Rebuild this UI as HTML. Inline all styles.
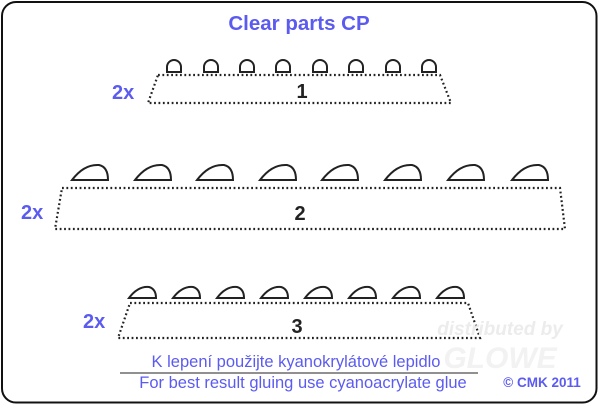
<!DOCTYPE html>
<html><head><style>
body{margin:0;width:600px;height:406px;background:#fff;overflow:hidden}
svg{display:block}
</style></head><body>
<svg width="600" height="406" viewBox="0 0 600 406" xmlns="http://www.w3.org/2000/svg" font-family="Liberation Sans, Arial, sans-serif">
<rect x="2" y="2" width="594.5" height="400.5" rx="14" fill="#fff" stroke="#111" stroke-width="2"/>
<text x="299" y="30" text-anchor="middle" font-size="20.5" font-weight="bold" fill="#5b5bf0">Clear parts CP</text>
<g fill="none" stroke="#222" stroke-width="2.2" stroke-dasharray="1.8 2.6">
<path d="M158 75 L440 75 L451 103 L148 103 Z"/>
<path d="M62 188 L560 188 L565 229 L55 229 Z"/>
<path d="M130 303 L468 303 L480 338 L118 338 Z"/>
</g>
<g fill="none" stroke="#222" stroke-width="2">
<g id="d">
<path d="M167 72 L167 67 A7 7 0 0 1 181 67 L181 72 Z"/>
</g>
<use href="#d" x="37"/><use href="#d" x="73"/><use href="#d" x="109"/><use href="#d" x="146"/><use href="#d" x="182"/><use href="#d" x="219"/><use href="#d" x="255"/>
<g id="c"><path d="M72 180 Q84 164 99 165 Q108 167 108 180 Z"/></g>
<use href="#c" x="63"/><use href="#c" x="125"/><use href="#c" x="188"/><use href="#c" x="250"/><use href="#c" x="313"/><use href="#c" x="376"/><use href="#c" x="440"/>
<g id="s"><path d="M129 298 Q138 286 149 287 Q156 289 156 298 Z"/></g>
<use href="#s" x="44"/><use href="#s" x="88"/><use href="#s" x="132"/><use href="#s" x="176"/><use href="#s" x="220"/><use href="#s" x="264"/><use href="#s" x="308"/>
</g>
<g font-size="20" font-weight="bold" fill="#5b5bf0">
<text x="112" y="99">2x</text>
<text x="21" y="219">2x</text>
<text x="83" y="328">2x</text>
</g>
<g font-size="20" font-weight="bold" fill="#222" text-anchor="middle">
<text x="302" y="98">1</text>
<text x="300" y="220">2</text>
<text x="297" y="333">3</text>
</g>
<text x="500" y="335" text-anchor="middle" font-size="19" font-style="italic" font-weight="bold" fill="#ececec">distributed by</text>
<text x="500" y="368" text-anchor="middle" font-size="30" font-style="italic" font-weight="bold" fill="#f2f2f2">GLOWE</text>
<text x="296" y="367" text-anchor="middle" font-size="16.5" fill="#5b5bf0">K lepení použijte kyanokrylátové lepidlo</text>
<line x1="120" y1="373" x2="478" y2="373" stroke="#222" stroke-width="1"/>
<text x="303" y="388" text-anchor="middle" font-size="16.5" fill="#5b5bf0">For best result gluing use cyanoacrylate glue</text>
<text x="542" y="387" text-anchor="middle" font-size="13.5" font-weight="bold" fill="#5b5bf0">© CMK 2011</text>
</svg>
</body></html>
